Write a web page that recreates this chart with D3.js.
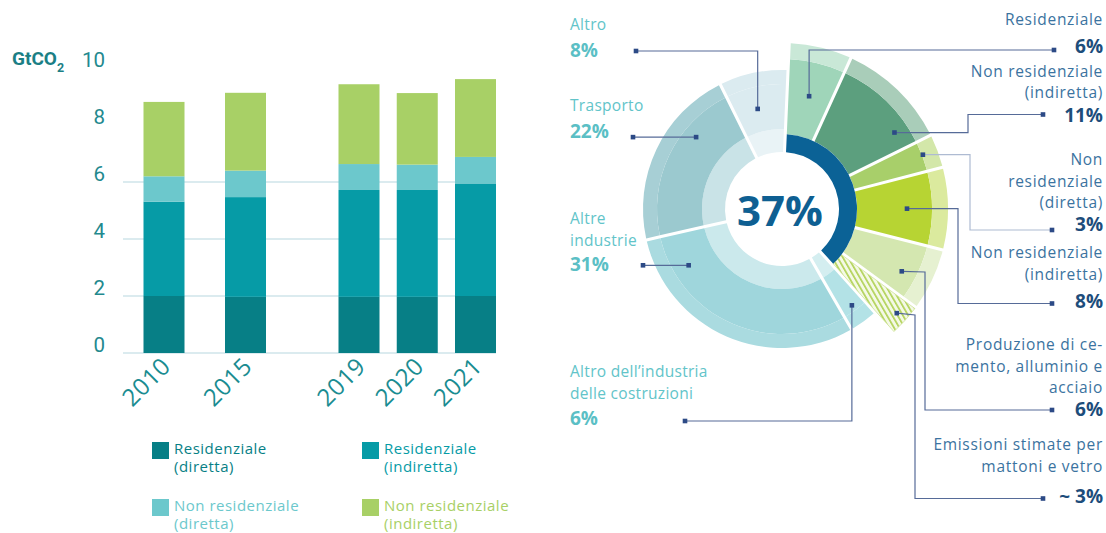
<!DOCTYPE html>
<html>
<head>
<meta charset="utf-8">
<script src="https://cdn.jsdelivr.net/npm/d3@7/dist/d3.min.js"></script>
<style>
  html, body { margin: 0; padding: 0; background: #ffffff; }
  svg { display: block; }
</style>
</head>
<body>
<svg id="chart" width="1106" height="533"></svg>
<script>
// ---------- Bar chart data: building emissions, GtCO2 ----------
const years = [2010, 2015, 2019, 2020, 2021];
const resDirect = [2.0, 1.97, 1.97, 1.97, 2.0];
const resIndirect = [3.31, 3.5, 3.75, 3.75, 3.95];
const nonResDirect = [0.89, 0.93, 0.91, 0.89, 0.93];
const nonResIndirect = [2.61, 2.73, 2.8, 2.51, 2.73];
const seriesLines = [
  ["Residenziale", "(diretta)"],
  ["Residenziale", "(indiretta)"],
  ["Non residenziale", "(diretta)"],
  ["Non residenziale", "(indiretta)"]
];
const yTicks = [0, 2, 4, 6, 8, 10];
const gridTicks = [0, 2, 4, 6];

// ---------- Donut data: share of energy-related CO2 emissions ----------
const sectorLines = [
  ["Residenziale"],
  ["Non residenziale", "(indiretta)"],
  ["Non", "residenziale", "(diretta)"],
  ["Non residenziale", "(indiretta)"],
  ["Produzione di ce-", "mento, alluminio e", "acciaio"],
  ["Emissioni stimate per", "mattoni e vetro"],
  ["Altro dell\u2019industria", "delle costruzioni"],
  ["Altre", "industrie"],
  ["Trasporto"],
  ["Altro"]
];
const sectorShares = [6, 11, 3, 8, 6, 3, 6, 31, 22, 8];
// part of a sector already drawn by the hatched bricks & glass slice before it
const sharedShares = [0, 0, 0, 0, 0, 0, 3, 0, 0, 0];
const shareLabels = ["6%", "11%", "3%", "8%", "6%", "~ 3%", "6%", "31%", "22%", "8%"];
const buildingsShare = 37;
const buildingSectors = 6; // first six slices make up the buildings share

// ---------- Styles ----------
const seriesColors = ["#077f86", "#069ba6", "#6cc8cc", "#a8d066"];
const mainColors  = ["#9fd5b9", "#5c9f7e", "#a8cf6a", "#b7d433", "#d4e7b0", null, "#b3e2e6", "#9fd6dc", "#9bc9cf", "#dbebf0"];
const outerColors = ["#c9e8d7", "#a9cdb9", "#d3e7a9", "#dbea9e", "#e6f1d1", null, "#b3e2e6", "#aadbe0", "#a7cfd5", "#dbebf0"];
const paleColors  = [null, null, null, null, null, null, "#d4eef0", "#cbe9ec", "#c9e3e7", "#e9f3f6"];

const svg = d3.select("#chart");
const defs = svg.append("defs");

// ================= Stacked bar chart =================
const y = d3.scaleLinear().domain([0, 10]).range([353, 68]);
const x = d3.scaleLinear().domain([2010, 2015, 2019, 2021]).range([164, 245.5, 359, 475.5]);
const barW = 41;

const stackInput = years.map((yr, i) => ({
  year: yr, a: resDirect[i], b: resIndirect[i], c: nonResDirect[i], d: nonResIndirect[i]
}));
const stacked = d3.stack().keys(["a", "b", "c", "d"])(stackInput);

// grid lines
svg.append("g").selectAll("line").data(gridTicks).join("line")
  .attr("x1", 123).attr("x2", 496)
  .attr("y1", d => y(d)).attr("y2", d => y(d))
  .attr("stroke", "#cfe5ea").attr("stroke-width", 1.3);

// tick labels
svg.append("g").selectAll("text").data(yTicks).join("text")
  .attr("x", 105).attr("y", d => y(d) - 1)
  .attr("text-anchor", "end")
  .attr("font-family", "Roboto, 'Noto Sans', sans-serif")
  .attr("font-size", 20.5)
  .attr("fill", "#23898e")
  .text(d => d);

// unit label
const unit = svg.append("text")
  .attr("x", 12).attr("y", 65)
  .attr("font-family", "Roboto, 'Noto Sans', sans-serif")
  .attr("font-weight", 700)
  .attr("font-size", 19)
  .attr("fill", "#1b7f85");
unit.append("tspan").text("GtCO");
unit.append("tspan").attr("font-size", 12.5).attr("dy", 7).text("2");

// bars
svg.append("g").selectAll("g").data(stacked).join("g")
  .attr("fill", (d, i) => seriesColors[i])
  .selectAll("rect").data(d => d).join("rect")
  .attr("x", d => x(d.data.year) - barW / 2)
  .attr("width", barW)
  .attr("y", d => y(d[1]))
  .attr("height", d => y(d[0]) - y(d[1]));

// year labels
svg.append("g").selectAll("text").data(years).join("text")
  .attr("transform", d => `translate(${x(d) + 8},${368}) rotate(-45)`)
  .attr("text-anchor", "end")
  .attr("font-family", "'Open Sans', sans-serif")
  .attr("font-size", 24)
  .attr("letter-spacing", 0.3)
  .attr("fill", "#1a8c91")
  .text(d => d);

// legend
const legendPos = [[152, 442], [362, 442], [152, 499], [362, 499]];
const legend = svg.append("g").selectAll("g").data(seriesLines).join("g")
  .attr("transform", (d, i) => `translate(${legendPos[i][0]},${legendPos[i][1]})`);
legend.append("rect").attr("width", 17).attr("height", 17)
  .attr("fill", (d, i) => seriesColors[i]);
legend.each(function (lines, i) {
  const t = d3.select(this).append("text")
    .attr("font-family", "'Open Sans', sans-serif")
    .attr("font-size", 15)
    .attr("letter-spacing", 0.5)
    .attr("fill", seriesColors[i]);
  lines.forEach((ln, k) => {
    t.append("tspan").attr("x", 22).attr("y", 11.5 + k * 18.5).text(ln);
  });
});

// ================= Donut =================
const cx = 782, cy = 209;
const R = { hole: 57, dark: 75, pale: 80, mainB: 150, outerB: 166, mainO: 125, outerO: 139 };
const rot = 2.5 * Math.PI / 180;

const pie = d3.pie().sort(null)
  .value(i => sectorShares[i] - sharedShares[i])
  .startAngle(rot).endAngle(rot + 2 * Math.PI)
  .padAngle(0.028);
const slices = pie(d3.range(sectorShares.length));

const arc = d3.arc().padRadius(110);

// hatching for the estimated bricks & glass slice
const pat = defs.append("pattern")
  .attr("id", "hatch").attr("patternUnits", "userSpaceOnUse")
  .attr("width", 4.6).attr("height", 4.6)
  .attr("patternTransform", "rotate(-30)");
pat.append("rect").attr("width", 4.6).attr("height", 4.6).attr("fill", "#f4f9e6");
pat.append("rect").attr("width", 1.7).attr("height", 4.6).attr("fill", "#b3d35a");

const donut = svg.append("g").attr("transform", `translate(${cx},${cy})`);

slices.forEach((s, i) => {
  let bands;
  if (i < buildingSectors) {
    bands = mainColors[i] === null
      ? [[R.dark, R.outerB, "url(#hatch)"]]
      : [[R.dark, R.mainB, mainColors[i]], [R.mainB, R.outerB, outerColors[i]]];
  } else {
    bands = [[R.hole, R.pale, paleColors[i]], [R.pale, R.mainO, mainColors[i]], [R.mainO, R.outerO, outerColors[i]]];
  }
  bands.forEach(([r0, r1, fill]) => {
    donut.append("path")
      .attr("d", arc({ ...s, innerRadius: r0, outerRadius: r1 }))
      .attr("fill", fill)
      .attr("stroke", fill === "url(#hatch)" ? "#cfe39a" : "none")
      .attr("stroke-width", 0.8);
  });
});

// buildings ring: 37%
donut.append("path")
  .attr("d", arc({
    startAngle: slices[0].startAngle,
    endAngle: slices[buildingSectors - 1].endAngle,
    padAngle: slices[0].padAngle,
    innerRadius: R.hole, outerRadius: R.dark
  }))
  .attr("fill", "#0b6296");

donut.append("text")
  .attr("x", -2).attr("y", 17)
  .attr("text-anchor", "middle")
  .attr("font-family", "'Open Sans', sans-serif")
  .attr("font-weight", 700)
  .attr("font-size", 42)
  .attr("fill", "#0e5f92")
  .text(buildingsShare + "%");

// ---------- leaders ----------
function anchorOf(i, frac, r) {
  const s = slices[i];
  const a = s.startAngle + (s.endAngle - s.startAngle) * frac;
  return [cx + r * Math.sin(a), cy - r * Math.cos(a)];
}
const leaders = [
  { i: 0, frac: 0.5,  r: 116, route: [["v", 50], ["h", 1054]] },
  { i: 1, frac: 0.8,  r: 136, route: [["h", 968], ["v", 114.5], ["h", 1043]] },
  { i: 2, frac: 0.45, r: 151, route: [["h", 970], ["v", 230], ["h", 1052]], light: true },
  { i: 3, frac: 0.5,  r: 125, route: [["h", 958], ["v", 303.5], ["h", 1052]] },
  { i: 4, frac: 0.6,  r: 135, route: [["p", 925, 272], ["v", 410], ["h", 1052]] },
  { i: 5, frac: 0.5,  r: 155, route: [["p", 915, 315], ["v", 498.5], ["h", 1043]] },
  { i: 6, frac: 0.5,  r: 119, route: [["v", 421], ["h", 685]] },
  { i: 7, frac: 0.83, r: 109, route: [["h", 643]] },
  { i: 8, frac: 0.69, r: 112, route: [["h", 633]] },
  { i: 9, frac: 0.44, r: 103, route: [["v", 51], ["h", 636]] }
];
const leaderG = svg.append("g");
leaders.forEach(L => {
  const start = anchorOf(L.i, L.frac, L.r);
  const pts = [start];
  let [px, py] = start;
  L.route.forEach(step => {
    if (step[0] === "h") px = step[1];
    else if (step[0] === "v") py = step[1];
    else { px = step[1]; py = step[2]; }
    pts.push([px, py]);
  });
  leaderG.append("path")
    .attr("d", d3.line()(pts))
    .attr("fill", "none")
    .attr("stroke", L.light ? "#aebbd2" : "#566b98")
    .attr("stroke-width", 1.2);
  [pts[0], pts[pts.length - 1]].forEach(p => {
    leaderG.append("rect")
      .attr("x", p[0] - 2.3).attr("y", p[1] - 2.3)
      .attr("width", 4.6).attr("height", 4.6)
      .attr("fill", "#2c4a86");
  });
});

// ---------- sector labels ----------
const rightLabels = [
  { i: 0, lines: [25], pct: 52.5 },
  { i: 1, lines: [76.5, 98], pct: 121.5 },
  { i: 2, lines: [165, 186.5, 208], pct: 231 },
  { i: 3, lines: [258, 279.5], pct: 308 },
  { i: 4, lines: [350, 371.5, 393], pct: 416 },
  { i: 5, lines: [450, 471.5], pct: 503 }
];
const leftLabels = [
  { i: 9, lines: [30], pct: 57 },
  { i: 8, lines: [111], pct: 138 },
  { i: 7, lines: [224, 245.5], pct: 271 },
  { i: 6, lines: [377, 398.5], pct: 425 }
];
function drawLabel(L, xPos, anchor, nameColor, pctColor, size, spacing) {
  const g = svg.append("g").attr("text-anchor", anchor)
    .attr("font-family", "'Open Sans', sans-serif");
  sectorLines[L.i].forEach((ln, k) => {
    g.append("text").attr("x", xPos).attr("y", L.lines[k])
      .attr("font-size", size).attr("letter-spacing", spacing)
      .attr("fill", nameColor).text(ln);
  });
  g.append("text").attr("x", xPos).attr("y", L.pct)
    .attr("font-size", 19).attr("font-weight", 700)
    .attr("fill", pctColor).text(shareLabels[L.i]);
}
rightLabels.forEach(L => drawLabel(L, 1103, "end", "#3b73a0", "#1d4d7b", 15.5, 0.7));
leftLabels.forEach(L => drawLabel(L, 570, "start", "#62c4c9", "#5bbfc5", 15.5, 0.3));
</script>
</body>
</html>
